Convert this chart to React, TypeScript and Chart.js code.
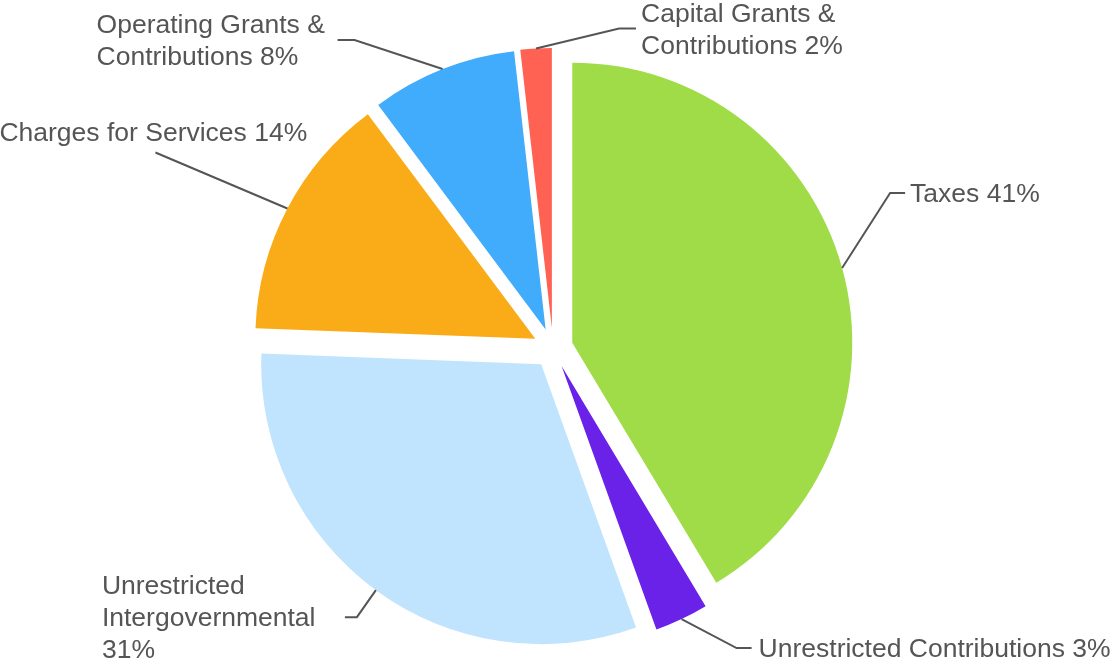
import React, { useEffect, useRef } from "react";
import { Chart, registerables } from "chart.js";

Chart.register(...registerables);

// ---- data ----
const categories = [
  "Taxes",
  "Unrestricted Contributions",
  "Unrestricted Intergovernmental",
  "Charges for Services",
  "Operating Grants & Contributions",
  "Capital Grants & Contributions",
];
const values = [41.4, 3.1, 31.1, 14.2, 8.4, 1.8];
const colors = ["#9FDC47", "#6A22E8", "#C0E4FD", "#FAAC18", "#41ABFC", "#FF6153"];

// ---- label styling / layout ----
const EXPLODE = 20;
const FONT = "26.5px 'Liberation Sans', Arial, sans-serif";
const LINE_H = 32;
const TEXT_SHIFT_Y = 2;
const TEXT_COLOR = "#555555";
const labelWrap = [0, 0, 245, 0, 245, 245];
// elbow offset from slice edge (dx, dy), horizontal segment h, text offset from segment end (tx, ty)
const labelLayout = [
  { dx: 48, dy: -75, h: 15, tx: 5, ty: 0 },
  { dx: 55, dy: 29, h: 15, tx: 7, ty: 0 },
  { dx: -19, dy: 27, h: -12, tx: -243, ty: 0 },
  { dx: -132, dy: -56, h: 0, tx: -156, ty: -21 },
  { dx: -88, dy: -29, h: -17, tx: -241, ty: 0 },
  { dx: 83, dy: -20, h: 17, tx: 5, ty: 0 },
];

function wrapText(ctx: CanvasRenderingContext2D, text: string, maxW: number): string[] {
  if (!maxW) return [text];
  const words = text.split(" ");
  const lines: string[] = [];
  let cur = "";
  for (const w of words) {
    const test = cur ? cur + " " + w : w;
    if (cur && ctx.measureText(test).width > maxW) {
      lines.push(cur);
      cur = w;
    } else {
      cur = test;
    }
  }
  if (cur) lines.push(cur);
  return lines;
}

const explodePlugin = {
  id: "explodeLabels",
  beforeDatasetsDraw(chart: any) {
    const meta = chart.getDatasetMeta(0);
    meta.data.forEach((arc: any) => {
      const mid = (arc.startAngle + arc.endAngle) / 2;
      arc._ox = arc.x;
      arc._oy = arc.y;
      arc.x = arc._ox + Math.cos(mid) * EXPLODE;
      arc.y = arc._oy + Math.sin(mid) * EXPLODE;
    });
  },
  afterDatasetsDraw(chart: any) {
    const ctx: CanvasRenderingContext2D = chart.ctx;
    const meta = chart.getDatasetMeta(0);
    const total = values.reduce((a, b) => a + b, 0);
    ctx.save();
    ctx.font = FONT;
    ctx.fillStyle = TEXT_COLOR;
    ctx.strokeStyle = TEXT_COLOR;
    ctx.lineWidth = 2;
    ctx.textBaseline = "middle";
    ctx.textAlign = "left";
    meta.data.forEach((arc: any, i: number) => {
      const mid = (arc.startAngle + arc.endAngle) / 2;
      const r = arc.outerRadius;
      const ex = arc.x + Math.cos(mid) * r;
      const ey = arc.y + Math.sin(mid) * r;
      const L = labelLayout[i];
      const bx = ex + L.dx;
      const by = ey + L.dy;
      const hx = bx + L.h;
      ctx.beginPath();
      ctx.moveTo(ex, ey);
      ctx.lineTo(bx, by);
      if (L.h) ctx.lineTo(hx, by);
      ctx.stroke();
      const pct = Math.round((values[i] / total) * 100);
      const text = `${categories[i]} ${pct}%`;
      const lines = wrapText(ctx, text, labelWrap[i]);
      const tx = hx + L.tx;
      const ty0 = by + L.ty + TEXT_SHIFT_Y - ((lines.length - 1) * LINE_H) / 2;
      lines.forEach((ln, k) => ctx.fillText(ln, tx, ty0 + k * LINE_H));
    });
    ctx.restore();
    meta.data.forEach((arc: any) => {
      arc.x = arc._ox;
      arc.y = arc._oy;
    });
  },
};

export default function App() {
  const ref = useRef<HTMLCanvasElement | null>(null);
  useEffect(() => {
    if (!ref.current) return;
    const chart = new Chart(ref.current, {
      type: "pie",
      data: {
        labels: categories,
        datasets: [
          {
            data: values,
            backgroundColor: colors,
            borderWidth: 0,
          },
        ],
      },
      options: {
        responsive: false,
        animation: false,
        radius: 280,
        layout: { padding: { left: 0, right: 7, top: 32, bottom: 0 } },
        plugins: {
          legend: { display: false },
          tooltip: { enabled: false },
        },
        events: [],
      } as any,
      plugins: [explodePlugin],
    });
    return () => chart.destroy();
  }, []);
  return (
    <div style={{ position: "absolute", left: 0, top: 0, width: 1113, height: 664, background: "#fff" }}>
      <canvas ref={ref} width={1113} height={664} style={{ display: "block" }} />
    </div>
  );
}
